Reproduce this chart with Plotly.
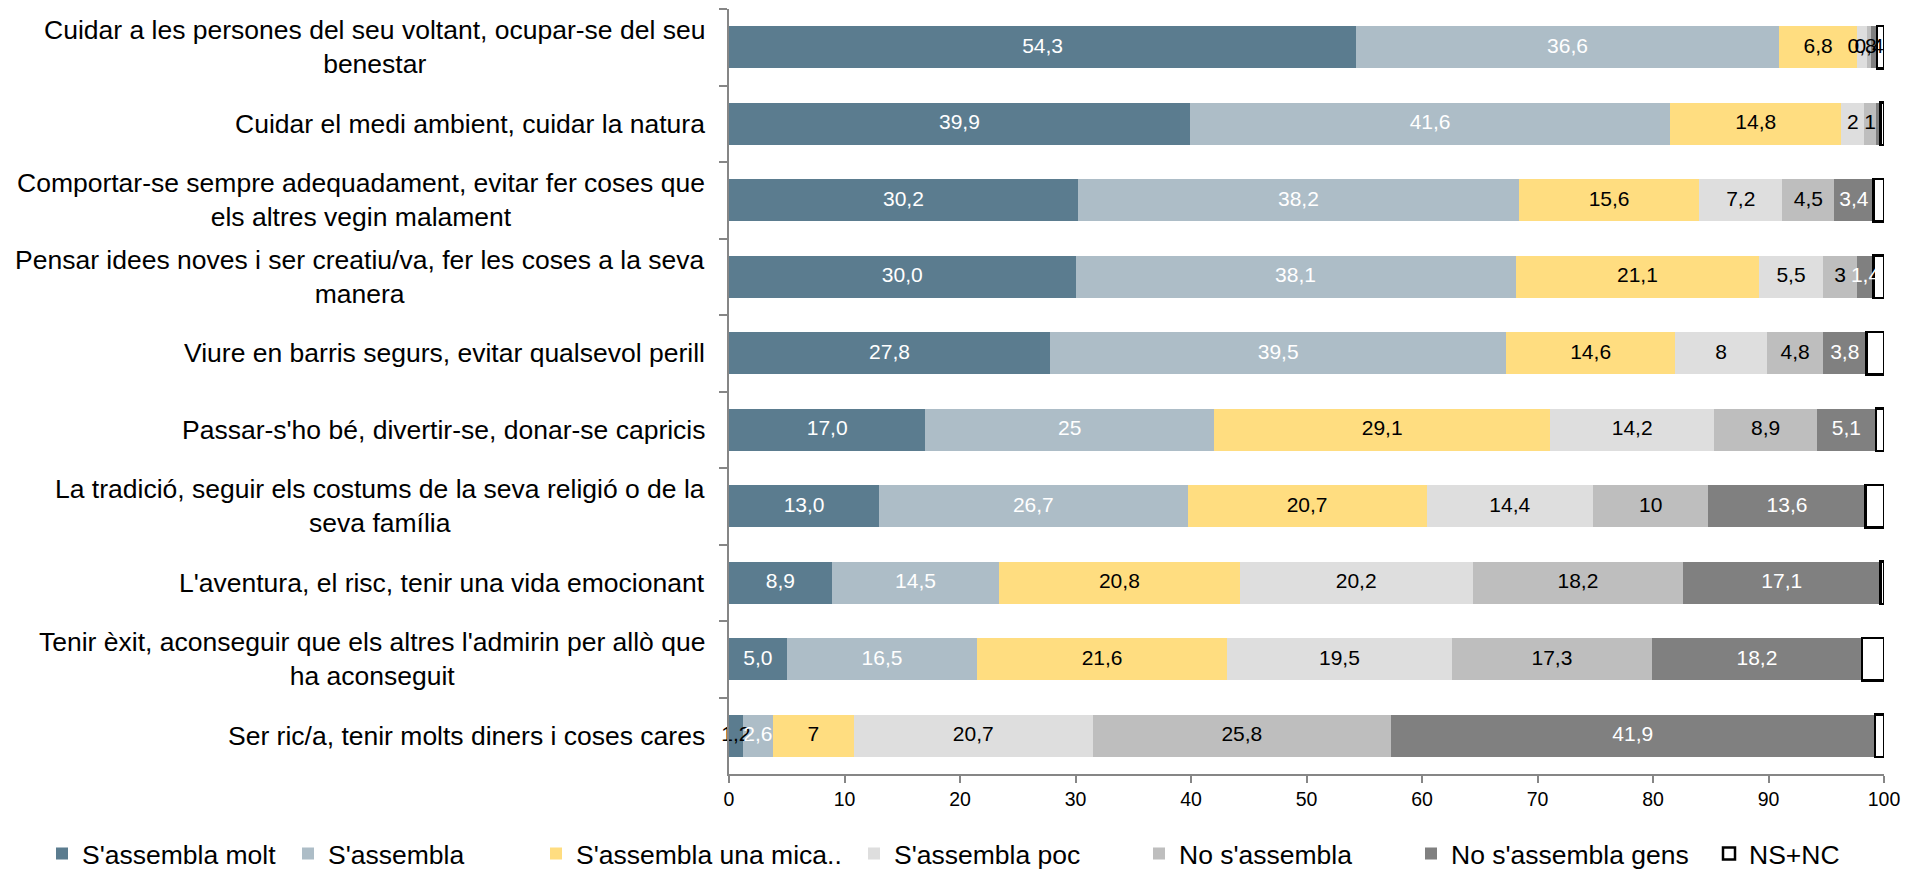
import plotly.graph_objects as go

# categories (top to bottom)
CATS = [
    "Cuidar a les persones del seu voltant, ocupar-se del seu<br>benestar",
    "Cuidar el medi ambient, cuidar la natura",
    "Comportar-se sempre adequadament, evitar fer coses que<br>els altres vegin malament",
    "Pensar idees noves i ser creatiu/va, fer les coses a la seva<br>manera",
    "Viure en barris segurs, evitar qualsevol perill",
    "Passar-s'ho bé, divertir-se, donar-se capricis",
    "La tradició, seguir els costums de la seva religió o de la<br>seva família",
    "L'aventura, el risc, tenir una vida emocionant",
    "Tenir èxit, aconseguir que els altres l'admirin per allò que<br>ha aconseguit",
    "Ser ric/a, tenir molts diners i coses cares",
]

SERIES = ["S'assembla molt", "S'assembla", "S'assembla una mica..",
          "S'assembla poc", "No s'assembla", "No s'assembla gens", "NS+NC"]

molt = [54.3, 39.9, 30.2, 30.0, 27.8, 17.0, 13.0, 8.9, 5.0, 1.2]
assembla = [36.6, 41.6, 38.2, 38.1, 39.5, 25, 26.7, 14.5, 16.5, 2.6]
mica = [6.8, 14.8, 15.6, 21.1, 14.6, 29.1, 20.7, 20.8, 21.6, 7]
poc = [0.8, 2, 7.2, 5.5, 8, 14.2, 14.4, 20.2, 19.5, 20.7]
no_ass = [0.4, 1, 4.5, 3, 4.8, 8.9, 10, 18.2, 17.3, 25.8]
gens = [0.5, 0.4, 3.4, 1.4, 3.8, 5.1, 13.6, 17.1, 18.2, 41.9]
nsnc = [0.6, 0.3, 0.9, 0.9, 1.5, 0.7, 1.6, 0.3, 1.9, 0.8]

COLORS = ["#5B7C8F", "#ADBDC7", "#FFDD80", "#DEDEDE", "#BEBEBE", "#808080", "#FFFFFF"]
TXT = ["white", "white", "black", "black", "black", "white", "black"]

# left edge (px) of each legend entry, Excel spreads them unevenly
LEG_X = [34, 280, 528, 846, 1131, 1403, 1701]
FONT = "Liberation Sans, Arial"


def fmt(v, fixed=False):
    s = f"{v:.1f}" if fixed else f"{v:g}"
    return s.replace(".", ",")


values = [molt, assembla, mica, poc, no_ass, gens, nsnc]
fig = go.Figure()
for i, (name, vals) in enumerate(zip(SERIES, values)):
    fig.add_trace(go.Bar(
        y=CATS, x=vals, name=name, orientation="h", showlegend=True,
        legend="legend" if i == 0 else f"legend{i + 1}",
        marker=dict(color=COLORS[i],
                    line=dict(color="black" if i == 6 else COLORS[i],
                              width=2.5 if i == 6 else 0)),
        hoverinfo="x+name",
    ))

# data labels on top of every bar (Excel draws them above all segments)
base = [0.0] * len(CATS)
for i, vals in enumerate(values[:6]):
    mids = [b + v / 2 for b, v in zip(base, vals)]
    if i == 0:
        text = [fmt(v, True) for v in vals]
    elif i == 5:
        text = [fmt(v) if v >= 1 else "" for v in vals]
    else:
        text = [fmt(v) for v in vals]
    # label spilling out of a tiny bar onto white -> black
    tcol = [TXT[i] if (i != 0 or v >= 2) else "black" for v in vals]
    fig.add_trace(go.Scatter(
        x=mids, y=CATS, mode="text", text=text, textposition="middle center",
        textfont=dict(color=tcol, size=21, family=FONT),
        showlegend=False, hoverinfo="skip", cliponaxis=False,
    ))
    base = [b + v for b, v in zip(base, vals)]

# category labels, centred multi-line like the original
for c in CATS:
    fig.add_annotation(x=0, xref="paper", y=c, yref="y", text=c,
                       xanchor="right", xshift=-22, align="center",
                       showarrow=False,
                       font=dict(size=26.5, color="black", family=FONT))

legends = {}
for i, lx in enumerate(LEG_X):
    key = "legend" if i == 0 else f"legend{i + 1}"
    legends[key] = dict(orientation="h", xref="container", yref="container",
                        x=lx / 1922, xanchor="left", y=0.03, yanchor="middle",
                        font=dict(size=26.5), bgcolor="rgba(0,0,0,0)")

fig.update_layout(
    barmode="stack", bargap=0.45,
    width=1922, height=872, showlegend=True,
    plot_bgcolor="white", paper_bgcolor="white",
    margin=dict(l=721, r=46, t=1, b=106, autoexpand=False),
    font=dict(family=FONT, color="black"),
    **legends,
)
fig.update_xaxes(range=[0, 100], dtick=10, showgrid=False, zeroline=False,
                 showline=True, linecolor="#868686", linewidth=2,
                 ticks="outside", ticklen=7, tickcolor="#868686", tickwidth=2,
                 tickfont=dict(size=19.5))
fig.update_yaxes(autorange="reversed", showticklabels=False, showgrid=False,
                 showline=True, linecolor="#868686", linewidth=2,
                 ticks="outside", ticklen=8, tickcolor="#868686", tickwidth=2,
                 tickson="boundaries")

fig.write_html("out.html")
